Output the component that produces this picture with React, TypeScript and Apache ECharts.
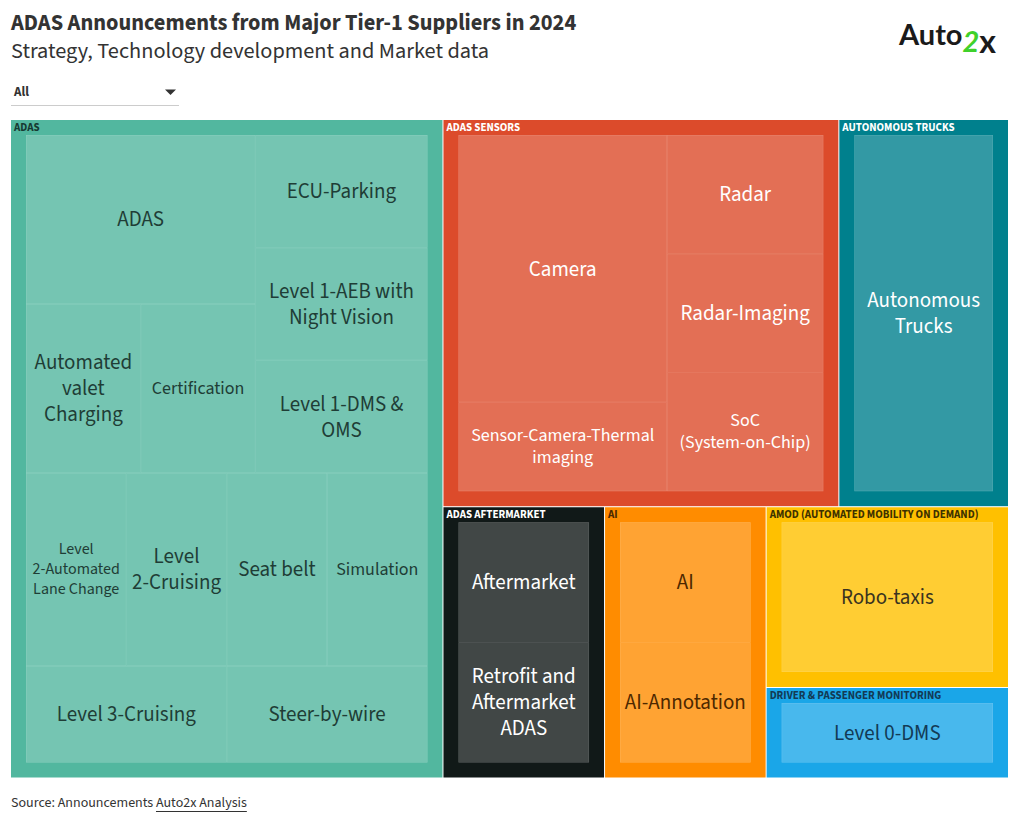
import React, { useEffect, useRef } from "react";
import * as echarts from "echarts";

const FONT = "'Source Sans Pro', 'Source Sans 3', Lato, 'Noto Sans', sans-serif";

// ---------- data ----------
const titleText = "ADAS Announcements from Major Tier-1 Suppliers in 2024";
const subtitleText = "Strategy, Technology development and Market data";
const filterText = "All";
const sourceText = "Source: Announcements ";
const sourceLinkText = "Auto2x Analysis";
const logoParts = ["Auto", "2", "x"];

const groupNames = [
  "ADAS",
  "ADAS SENSORS",
  "AUTONOMOUS TRUCKS",
  "ADAS AFTERMARKET",
  "AI",
  "AMOD (AUTOMATED MOBILITY ON DEMAND)",
  "DRIVER & PASSENGER MONITORING",
];

const adasTopics = [
  "ADAS",
  "Automated valet Charging",
  "Certification",
  "ECU-Parking",
  "Level 1-AEB with Night Vision",
  "Level 1-DMS & OMS",
  "Level 2-Automated Lane Change",
  "Level 2-Cruising",
  "Level 3-Cruising",
  "Seat belt",
  "Simulation",
  "Steer-by-wire",
];
const adasCounts = [2, 1, 1, 1, 1, 1, 1, 1, 1, 1, 1, 1];

const sensorTopics = ["Camera", "Sensor-Camera-Thermal imaging", "Radar", "Radar-Imaging", "SoC (System-on-Chip)"];
const sensorCounts = [3, 1, 1, 1, 1];

const truckTopics = ["Autonomous Trucks"];
const truckCounts = [3];

const aftermarketTopics = ["Aftermarket", "Retrofit and Aftermarket ADAS"];
const aftermarketCounts = [1, 1];

const aiTopics = ["AI", "AI-Annotation"];
const aiCounts = [1, 1];

const amodTopics = ["Robo-taxis"];
const amodCounts = [2];

const monitoringTopics = ["Level 0-DMS"];
const monitoringCounts = [1];

// ---------- styles ----------
const groupColors = ["#52b79f", "#dc4b2b", "#00808d", "#111918", "#ff8c00", "#ffc000", "#1aa6e8"];
const headerColors = ["#173a32", "#ffffff", "#ffffff", "#ffffff", "#4d2800", "#3d3100", "#133a55"];
const leafTextColors = ["#1f3d36", "#ffffff", "#ffffff", "#ffffff", "#4d2800", "#3a3320", "#133a55"];

const labelBreaks: Record<string, string> = {
  "Automated valet Charging": "Automated\nvalet\nCharging",
  "Level 1-AEB with Night Vision": "Level 1-AEB with\nNight Vision",
  "Level 1-DMS & OMS": "Level 1-DMS &\nOMS",
  "Level 2-Automated Lane Change": "Level\n2-Automated\nLane Change",
  "Level 2-Cruising": "Level\n2-Cruising",
  "Sensor-Camera-Thermal imaging": "Sensor-Camera-Thermal\nimaging",
  "SoC (System-on-Chip)": "SoC\n(System-on-Chip)",
  "Autonomous Trucks": "Autonomous\nTrucks",
  "Retrofit and Aftermarket ADAS": "Retrofit and\nAftermarket\nADAS",
};
const defaultLabelSize = 21;
const labelSizes: Record<string, number> = {
  Certification: 18,
  Simulation: 18,
  "Level 2-Automated Lane Change": 16,
  "Sensor-Camera-Thermal imaging": 18,
  "SoC (System-on-Chip)": 18,
};

function mixWhite(hex: string, t: number): string {
  const n = parseInt(hex.slice(1), 16);
  const r = (n >> 16) & 255, g = (n >> 8) & 255, b = n & 255;
  const f = (c: number) => Math.round(c * (1 - t) + 255 * t).toString(16).padStart(2, "0");
  return "#" + f(r) + f(g) + f(b);
}

type TNode = {
  name: string;
  value: number;
  children?: TNode[];
  itemStyle?: any;
  label?: any;
  upperLabel?: any;
};

let splitId = 0;
function splitNode(children: TNode[], style: any): TNode {
  return {
    name: "split-" + splitId++,
    value: children.reduce((s, c) => s + c.value, 0),
    children,
    itemStyle: style,
    label: { show: false },
    upperLabel: { show: false },
  };
}

// binary partition (halving along the cumulative value)
function binaryTree(items: TNode[], style: any): TNode {
  if (items.length === 1) return items[0];
  const sums = [0];
  items.forEach((it) => sums.push(sums[sums.length - 1] + it.value));
  const target = sums[items.length] / 2;
  let k = 1;
  while (k < items.length - 1 && sums[k] < target) k++;
  if (target - sums[k - 1] < sums[k] - target && k > 1) k--;
  return splitNode([binaryTree(items.slice(0, k), style), binaryTree(items.slice(k), style)], style);
}

const hiddenStyle = { borderWidth: 0, gapWidth: 0, borderColor: "rgba(0,0,0,0)" };

function buildGroup(gi: number, topics: string[], counts: number[]): TNode {
  const base = groupColors[gi];
  const leaves: TNode[] = topics.map((t, i) => {
    const fs = labelSizes[t] ?? defaultLabelSize;
    return {
      name: t,
      value: counts[i],
      itemStyle: { color: mixWhite(base, 0.2), borderColor: mixWhite(base, 0.33), borderWidth: 0.5 },
      label: {
        show: true,
        position: "inside",
        formatter: labelBreaks[t] ?? t,
        fontSize: fs,
        lineHeight: Math.ceil(fs * 1.2),
        color: leafTextColors[gi],
        fontFamily: FONT,
        overflow: "none",
        align: "center",
        verticalAlign: "middle",
      },
    };
  });
  const total = counts.reduce((a, b) => a + b, 0);
  const split = binaryTree(leaves, hiddenStyle);
  const group: TNode = {
    name: groupNames[gi],
    value: total,
    children: split.children ? split.children : [split],
    itemStyle: { borderWidth: 15, borderColor: base, gapWidth: 0 },
    label: { show: false },
    upperLabel: {
      show: true,
      height: 15,
      position: [-12, "50%"],
      verticalAlign: "middle",
      padding: 0,
      color: headerColors[gi],
      fontSize: 11,
      fontWeight: "bold",
      fontFamily: FONT,
      overflow: "none",
    },
  };
  return {
    name: groupNames[gi] + " frame",
    value: total,
    children: [group],
    itemStyle: { borderWidth: 0.5, borderColor: "#ffffff", gapWidth: 0 },
    label: { show: false },
    upperLabel: { show: false },
  };
}

function measure(text: string, font: string): number {
  const ctx = document.createElement("canvas").getContext("2d");
  if (!ctx) return text.length * 6;
  ctx.font = font;
  return ctx.measureText(text).width;
}

export default function App() {
  const ref = useRef<HTMLDivElement>(null);
  useEffect(() => {
    if (!ref.current) return;
    const chart = echarts.init(ref.current, undefined, { renderer: "svg" });
    splitId = 0;
    const groupsTree = [
      buildGroup(0, adasTopics, adasCounts),
      buildGroup(1, sensorTopics, sensorCounts),
      buildGroup(2, truckTopics, truckCounts),
      buildGroup(3, aftermarketTopics, aftermarketCounts),
      buildGroup(4, aiTopics, aiCounts),
      buildGroup(5, amodTopics, amodCounts),
      buildGroup(6, monitoringTopics, monitoringCounts),
    ];
    const root = binaryTree(groupsTree, hiddenStyle);
    const data = root.children ? root.children : [root];

    const srcFont = `14px ${FONT}`;
    const srcW = measure(sourceText, srcFont);
    const linkW = measure(sourceLinkText, srcFont);
    const autoFont = `bold 29px Lato, ${FONT}`;
    const twoFont = `bold italic 29px Lato, ${FONT}`;
    const xFont = `bold 32px Lato, ${FONT}`;
    const autoW = measure(logoParts[0], autoFont);
    const twoW = measure(logoParts[1], twoFont);
    const logoX = 899;

    const txt = (x: number, y: number, text: string, font: string, fill: string, align = "left") => ({
      type: "text",
      x,
      y,
      silent: true,
      style: { text, font, fill, align, textAlign: align, verticalAlign: "middle", textVerticalAlign: "middle" },
    });

    chart.setOption({
      animation: false,
      graphic: [
        txt(11, 23, titleText, `bold 22.4px ${FONT}`, "#333333"),
        txt(11, 51, subtitleText, `22.3px ${FONT}`, "#333333"),
        txt(14, 92, filterText, `bold 13px ${FONT}`, "#333333"),
        { type: "polygon", silent: true, shape: { points: [[165, 89.5], [176, 89.5], [170.5, 95]] }, style: { fill: "#333333" } },
        { type: "line", silent: true, shape: { x1: 11, y1: 105.5, x2: 179, y2: 105.5 }, style: { stroke: "#cccccc", lineWidth: 1 } },
        txt(11, 803, sourceText, srcFont, "#333333"),
        txt(11 + srcW, 803, sourceLinkText, srcFont, "#333333"),
        { type: "line", silent: true, shape: { x1: 11 + srcW, y1: 811.5, x2: 11 + srcW + linkW, y2: 811.5 }, style: { stroke: "#333333", lineWidth: 1 } },
        txt(logoX, 33, logoParts[0], autoFont, "#1a1a1a"),
        txt(logoX + autoW, 40, logoParts[1], twoFont, "#3fd12b"),
        txt(logoX + autoW + twoW, 40, logoParts[2], xFont, "#1a1a1a"),
      ],
      series: [
        {
          type: "treemap",
          left: 10.5,
          top: 119.5,
          width: 998,
          height: 658.5,
          squareRatio: 0.5,
          sort: false,
          roam: false,
          nodeClick: false,
          drillDownIcon: "",
          breadcrumb: { show: false },
          itemStyle: { borderWidth: 0, gapWidth: 0, borderColor: "rgba(0,0,0,0)" },
          label: { show: false },
          upperLabel: { show: false },
          emphasis: { disabled: true },
          data,
        },
      ],
    });
    return () => chart.dispose();
  }, []);
  return <div ref={ref} style={{ position: "absolute", left: 0, top: 0, width: 1020, height: 822 }} />;
}
